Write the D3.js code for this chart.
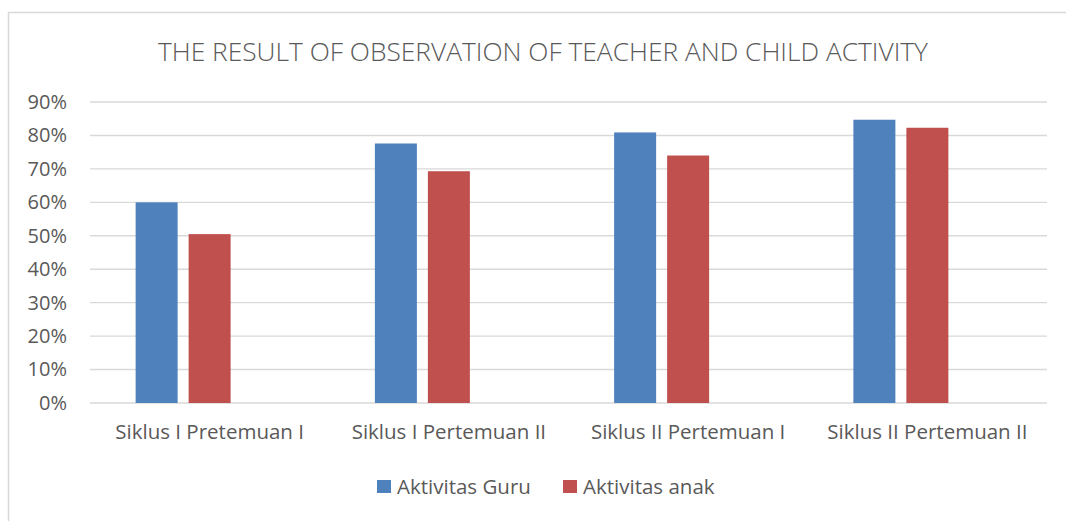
<!DOCTYPE html>
<html lang="en">
<head>
    <meta charset="utf-8">
    <title>Teacher and Child Activity</title>
    <script src="https://cdn.jsdelivr.net/npm/d3@7/dist/d3.min.js"></script>
    <style>
      body { margin: 0; background: #fff; }
      text { font-family: "Open Sans", Lato, sans-serif; fill: #595959; }
      .grid line { stroke: #d9d9d9; stroke-width: 1.4px; }
    </style>
</head>
<body>
<svg width="1066" height="521"></svg>

<script>
var categories = ["Siklus I Pretemuan I", "Siklus I Pertemuan II", "Siklus II Pertemuan I", "Siklus II Pertemuan II"];
var seriesNames = ["Aktivitas Guru", "Aktivitas anak"];
var guru = [0.60, 0.776, 0.809, 0.847];
var anak = [0.505, 0.693, 0.740, 0.823];
var colors = ["#4f81bd", "#c0504d"];
var yTicks = [0, 0.1, 0.2, 0.3, 0.4, 0.5, 0.6, 0.7, 0.8, 0.9];

var svg = d3.select("svg");

// outer chart border (runs off the right/bottom of the picture)
svg.append("rect")
    .attr("x", 8.5).attr("y", 12.5)
    .attr("width", 1100).attr("height", 540)
    .attr("fill", "none").attr("stroke", "#d9d9d9").attr("stroke-width", 1.5);

var margin = {left: 90, right: 19, top: 102, bottom: 118};
var width = 1066 - margin.left - margin.right,
    height = 521 - margin.top - margin.bottom;

var g = svg.append("g").attr("transform", "translate(" + margin.left + "," + margin.top + ")");

var x0 = d3.scaleBand().domain(categories).range([0, width]).paddingInner(0).paddingOuter(0);
// the original workbook leaves room for a third (empty) series slot
var x1 = d3.scaleBand().domain([0, 1, 2]).range([0, x0.bandwidth()]).paddingInner(0.2075).paddingOuter(0.861);
var y = d3.scaleLinear().domain([0, 0.9]).range([height, 0]);

g.append("g").attr("class", "grid")
  .selectAll("line").data(yTicks).enter().append("line")
    .attr("x1", 0).attr("x2", width)
    .attr("y1", function(d) { return y(d); })
    .attr("y2", function(d) { return y(d); });

var yAxis = g.append("g")
    .call(d3.axisLeft(y).tickValues(yTicks).tickFormat(d3.format(".0%")).tickSize(0).tickPadding(23));
yAxis.select(".domain").remove();
yAxis.selectAll("text")
    .style("font-size", "20px").style("fill", "#595959").style("font-family", "'Open Sans', Lato, sans-serif");

var xAxis = g.append("g").attr("transform", "translate(0," + height + ")")
    .call(d3.axisBottom(x0).tickSize(0).tickPadding(21));
xAxis.select(".domain").remove();
xAxis.selectAll("text")
    .style("font-size", "20.5px").style("fill", "#595959").style("font-family", "'Open Sans', Lato, sans-serif");

var series = [guru, anak];
series.forEach(function(vals, si) {
  g.append("g").selectAll("rect").data(vals).enter().append("rect")
    .attr("x", function(d, i) { return x0(categories[i]) + x1(si); })
    .attr("width", x1.bandwidth())
    .attr("y", function(d) { return y(d); })
    .attr("height", function(d) { return height - y(d); })
    .attr("fill", colors[si]);
});

// title
svg.append("text")
    .attr("x", 543).attr("y", 61)
    .attr("text-anchor", "middle")
    .style("font-size", "25px").style("font-weight", 300)
    .attr("textLength", 770).attr("lengthAdjust", "spacingAndGlyphs")
    .text("THE RESULT OF OBSERVATION OF TEACHER AND CHILD ACTIVITY");

// legend
var legendX = [377, 563];
var legend = svg.append("g").selectAll("g").data(seriesNames).enter().append("g")
    .attr("transform", function(d, i) { return "translate(" + legendX[i] + ",480)"; });
legend.append("rect").attr("width", 14).attr("height", 13)
    .attr("fill", function(d, i) { return colors[i]; });
legend.append("text").attr("x", 20).attr("y", 14)
    .style("font-size", "20.5px")
    .text(function(d) { return d; });
</script>
</body>
</html>
